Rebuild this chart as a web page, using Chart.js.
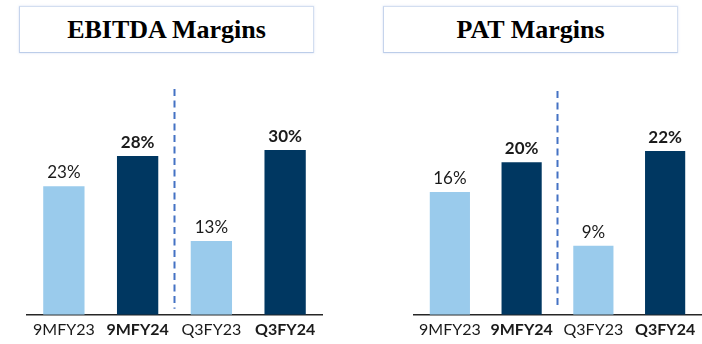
<!DOCTYPE html>
<html>
<head>
<meta charset="utf-8">
<script src="https://cdn.jsdelivr.net/npm/chart.js@4/dist/chart.umd.min.js"></script>
<style>
  html, body { margin: 0; padding: 0; background: #fff; }
  body { width: 702px; height: 344px; position: relative; overflow: hidden; }
  .title {
    position: absolute; box-sizing: border-box;
    border: 1.5px solid #d3def0; border-bottom-color: #bccde9; border-left-color: #c6d4ec;
    box-shadow: 0 0 2px rgba(180,200,235,0.6);
    font-family: "Liberation Serif", serif; font-weight: bold; font-size: 26px;
    color: #000; text-align: center; display: flex; align-items: center; justify-content: center;
  }
  .wrap { position: absolute; }
</style>
</head>
<body>
<div class="title" style="left:19px; top:6px; width:295px; height:47px;">EBITDA Margins</div>
<div class="title" style="left:383px; top:6px; width:295px; height:47px;">PAT Margins</div>
<div class="wrap" style="left:0px; top:89px; width:351px; height:255px;"><canvas id="c1" width="351" height="255"></canvas></div>
<div class="wrap" style="left:351px; top:91px; width:351px; height:253px;"><canvas id="c2" width="351" height="253"></canvas></div>
<script>
const categories = ['9MFY23', '9MFY24', 'Q3FY23', 'Q3FY24'];
const boldFlags = [false, true, false, true];
const barColors = ['#9ACBEC', '#003761', '#9ACBEC', '#003761'];

const ebitdaValues = [23.0, 28.4, 13.2, 29.5];
const ebitdaLabels = ['23%', '28%', '13%', '30%'];

const patValues = [16.2, 20.1, 9.1, 21.6];
const patLabels = ['16%', '20%', '9%', '22%'];

const overlay = {
  id: 'overlay',
  afterDatasetsDraw(chart, args, opts) {
    const { ctx, chartArea, scales: { x } } = chart;
    const meta = chart.getDatasetMeta(0);
    ctx.save();
    ctx.fillStyle = '#1a1a1a';
    ctx.textAlign = 'center';
    ctx.textBaseline = 'alphabetic';
    meta.data.forEach((bar, i) => {
      ctx.font = (boldFlags[i] ? 'bold ' : '') + '17px Lato';
      ctx.fillText(opts.labels[i], bar.x, bar.y - 8);
    });
    const xm = (x.getPixelForValue(1) + x.getPixelForValue(2)) / 2;
    ctx.strokeStyle = '#4472C4';
    ctx.lineWidth = 2;
    ctx.setLineDash([7, 4.5]);
    ctx.beginPath();
    ctx.moveTo(xm, chartArea.top);
    ctx.lineTo(xm, chartArea.bottom - 6);
    ctx.stroke();
    ctx.restore();
  }
};

function makeChart(id, values, labels, yMax, pad, barPct) {
  return new Chart(document.getElementById(id), {
    type: 'bar',
    data: {
      labels: categories,
      datasets: [{ data: values, backgroundColor: barColors, barPercentage: barPct, categoryPercentage: 1 }]
    },
    options: {
      responsive: false,
      animation: false,
      layout: { padding: pad },
      plugins: { legend: { display: false }, tooltip: { enabled: false }, overlay: { labels: labels } },
      scales: {
        x: {
          grid: { display: false, drawTicks: false },
          border: { display: true, color: '#262626', width: 1.5 },
          ticks: {
            color: '#1a1a1a', padding: 5,
            font: (c) => ({ family: 'Lato', size: 16, weight: boldFlags[c.index] ? 'bold' : 'normal' })
          }
        },
        y: { display: false, min: 0, max: yMax }
      }
    },
    plugins: [overlay]
  });
}

Promise.all([
  document.fonts.load('16px Lato'),
  document.fonts.load('bold 16px Lato'),
  document.fonts.load('bold 26px "Liberation Serif"')
]).catch(() => {}).then(() => {
  makeChart('c1', ebitdaValues, ebitdaLabels, 40.4, { left: 27, right: 29, top: 0, bottom: 0 }, 0.56);
  makeChart('c2', patValues, patLabels, 29.5, { left: 63, right: 1, top: 0, bottom: 0 }, 0.56);
});
</script>
</body>
</html>
